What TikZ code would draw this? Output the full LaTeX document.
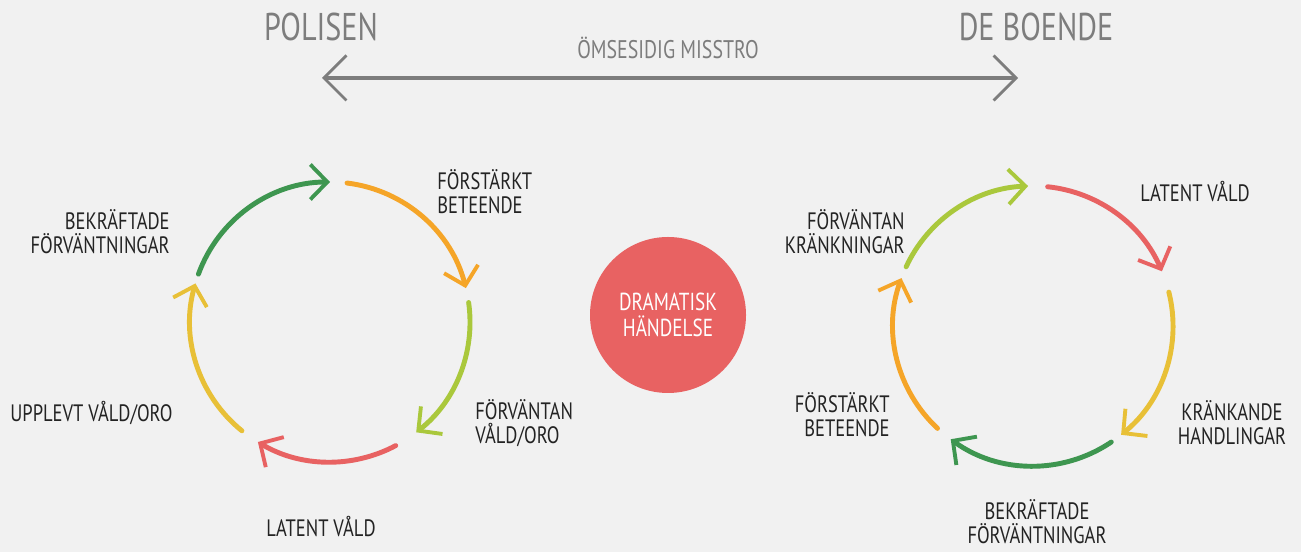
\documentclass[tikz,border=0pt]{standalone}
\usepackage{fontspec}
\setmainfont{PT Sans}[FakeStretch=0.78]
\usetikzlibrary{arrows.meta, positioning}
\definecolor{mbg}{RGB}{241,241,241}
\definecolor{mgreen}{RGB}{62,150,80}
\definecolor{mlime}{RGB}{170,200,60}
\definecolor{morange}{RGB}{245,165,40}
\definecolor{myellow}{RGB}{232,192,55}
\definecolor{mred}{RGB}{232,98,98}
\definecolor{mgrey}{RGB}{125,125,125}
\definecolor{mtext}{RGB}{35,35,35}
\tikzset{
    lbl/.style = {text=mtext, inner sep=0pt,
                  font=\fontsize{13.5}{13.6}\selectfont},
    headline/.style = {text=mgrey, inner sep=0pt,
                  font=\fontsize{22}{24}\selectfont},
    cyc/.style = {line width=2.8pt, line cap=round,
                  -{Straight Barb[length=3.4mm, width=7mm, line width=2.2pt]}},
    misstro/.style = {draw=mgrey, line width=1.8pt,
                  {Straight Barb[length=4.5mm, width=9mm, line width=1.6pt]}-{Straight Barb[length=4.5mm, width=9mm, line width=1.6pt]}},
    event/.style = {circle, fill=mred, minimum size=3.12cm, text=white,
                  align=center, font=\fontsize{14}{14.5}\selectfont}
    }

\begin{document}
\begin{tikzpicture}
\fill [mbg] (0,0) rectangle (26.02,11.04);
% the two cycles
\coordinate (pol) at (6.6,4.6);
\coordinate (boe) at (20.66,4.52);
\foreach \s/\e/\c in {160/90/mgreen, 83/14/morange, 8/-52/mlime,
                      -62/-121/mred, -129/-196/myellow}
    \draw [cyc, \c] (pol) ++(\s:2.8) arc [start angle=\s, end angle=\e, radius=2.8];
\foreach \s/\e/\c in {155/92/mlime, 84/23/mred, 14/-51/myellow,
                      -56/-126/mgreen, -133/-200/morange}
    \draw [cyc, \c] (boe) ++(\s:2.8) arc [start angle=\s, end angle=\e, radius=2.8];
\node [event] (event) at (13.36,4.74) {DRAMATISK\\HÄNDELSE};
% top
\node [headline] (polisen) at (6.42,10.5) {POLISEN};
\node [headline] (boende) at (20.72,10.5) {DE BOENDE};
\coordinate (mL) at (6.44,9.48);
\coordinate (mR) at (20.36,9.48);
\draw [misstro] (mL) -- (mR);
\node [text=mgrey, inner sep=0pt, font=\fontsize{14.5}{15}\selectfont] (mistro) at (13.36,10.08) {ÖMSESIDIG MISSTRO};
% police cycle labels
\node [lbl, anchor=west, align=left] (pforst) at (8.74,7.21) {FÖRSTÄRKT\\BETEENDE};
\node [lbl, anchor=west, align=left] (pforv) at (9.5,2.58) {FÖRVÄNTAN\\VÅLD/ORO};
\node [lbl] (plat) at (6.42,0.5) {LATENT VÅLD};
\node [lbl, anchor=west] (pupp) at (0.2,2.78) {UPPLEVT VÅLD/ORO};
\node [lbl, anchor=east, align=right] (pbekr) at (3.4,6.4) {BEKRÄFTADE\\FÖRVÄNTNINGAR};
% residents cycle labels
\node [lbl, anchor=west] (blat) at (22.8,7.2) {LATENT VÅLD};
\node [lbl, align=center] (bkrank) at (24.64,2.58) {KRÄNKANDE\\HANDLINGAR};
\node [lbl, align=center] (bbekr) at (20.74,0.6) {BEKRÄFTADE\\FÖRVÄNTNINGAR};
\node [lbl, anchor=east, align=right] (bforst) at (17.8,2.74) {FÖRSTÄRKT\\BETEENDE};
\node [lbl, anchor=east, align=right] (bforv) at (18.1,6.4) {FÖRVÄNTAN\\KRÄNKNINGAR};
\end{tikzpicture}
\end{document}
